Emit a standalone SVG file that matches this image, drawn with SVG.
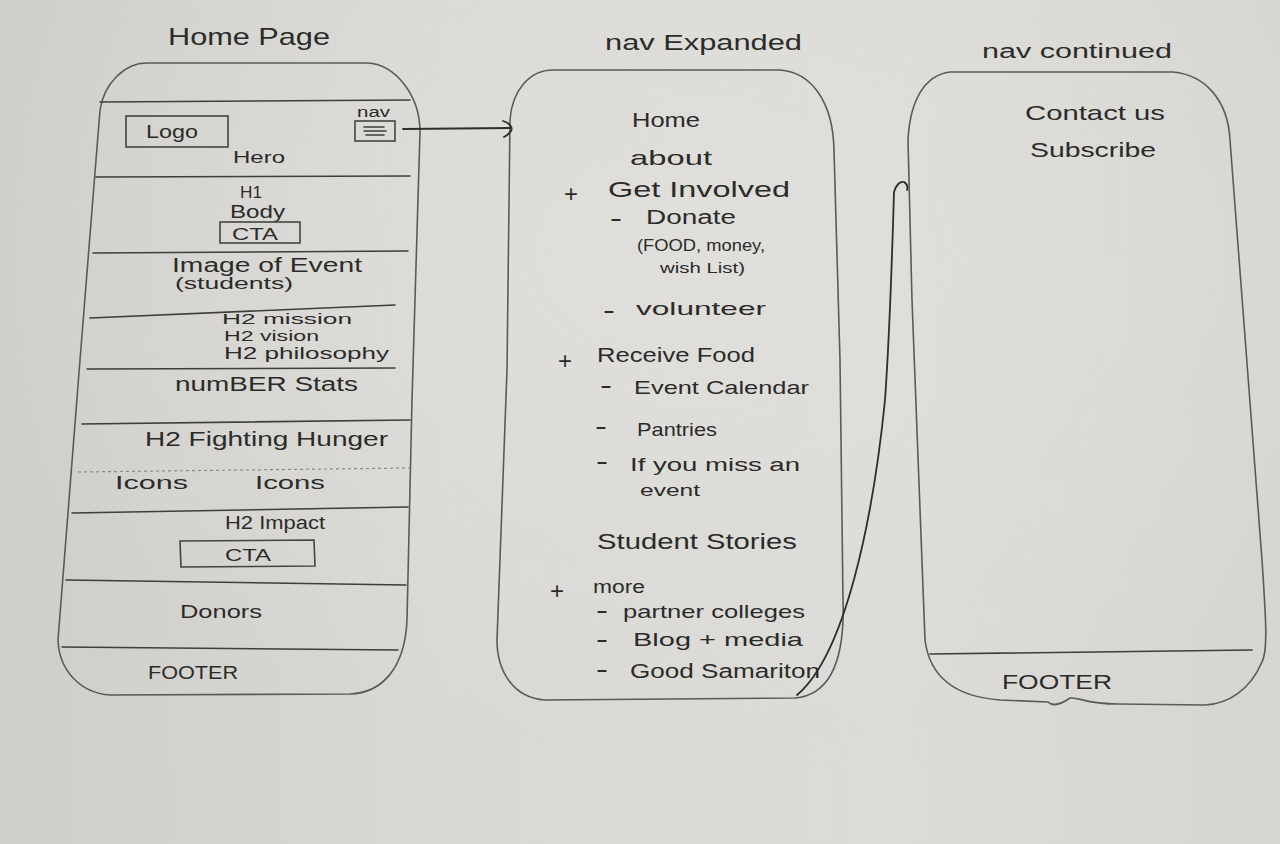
<svg xmlns="http://www.w3.org/2000/svg" width="1280" height="844" viewBox="0 0 1280 844">
<defs>
<linearGradient id="paper" x1="0" y1="0" x2="1" y2="0">
<stop offset="0" stop-color="#cfcecb"/>
<stop offset="0.35" stop-color="#d9d8d5"/>
<stop offset="0.7" stop-color="#dcdbd8"/>
<stop offset="1" stop-color="#d6d5d2"/>
</linearGradient>
<radialGradient id="glow" cx="0.55" cy="0.3" r="0.6">
<stop offset="0" stop-color="#e2e1de" stop-opacity="0.7"/>
<stop offset="1" stop-color="#e2e1de" stop-opacity="0"/>
</radialGradient>
<style>
.outline{fill:none;stroke:#5a5a58;stroke-width:1.6;stroke-linejoin:round;stroke-linecap:round}
.rule{fill:none;stroke:#3e3e3c;stroke-width:1.6;stroke-linecap:round}
.faint{fill:none;stroke:#8a8a87;stroke-width:1.2;stroke-dasharray:3 3}
.box{fill:none;stroke:#444442;stroke-width:1.6}
.conn{fill:none;stroke:#2e2e2c;stroke-width:1.8;stroke-linecap:round;stroke-linejoin:round}
text{font-family:"Liberation Sans","DejaVu Sans",sans-serif;fill:#2b2b29;font-weight:normal}
.mk{font-size:24px}
</style>
</defs>
<rect width="1280" height="844" fill="url(#paper)"/>
<rect width="1280" height="844" fill="url(#glow)"/>

<g id="home-page">
<text x="168" y="45" font-size="24" textLength="162" lengthAdjust="spacingAndGlyphs">Home Page</text>
<path class="outline" d="M147,63 L367,63 C395,64 420,95 420,132 L412,400 L407,620 C405,668 382,693 350,694 L110,695 C80,693 59,670 58,640 L80,360 L100,110 C104,84 124,63 147,63 Z"/>
<line class="rule" x1="100" y1="102" x2="410" y2="100"/>
<line class="rule" x1="96" y1="177" x2="410" y2="176"/>
<line class="rule" x1="93" y1="253" x2="408" y2="251"/>
<line class="rule" x1="90" y1="318" x2="395" y2="305"/>
<line class="rule" x1="87" y1="369" x2="395" y2="368"/>
<line class="rule" x1="82" y1="424" x2="410" y2="420"/>
<line class="faint" x1="78" y1="472" x2="410" y2="468"/>
<line class="rule" x1="72" y1="513" x2="408" y2="507"/>
<line class="rule" x1="66" y1="580" x2="406" y2="585"/>
<line class="rule" x1="62" y1="647" x2="398" y2="650"/>
<rect class="box" x="126" y="116" width="102" height="31"/>
<text x="146" y="138" font-size="18" textLength="52" lengthAdjust="spacingAndGlyphs">Logo</text>
<text x="357" y="117" font-size="14" textLength="33" lengthAdjust="spacingAndGlyphs">nav</text>
<rect class="box" x="355" y="121" width="40" height="20"/>
<line class="rule" x1="364" y1="127" x2="384" y2="127" stroke-width="1.2"/>
<line class="rule" x1="364" y1="131" x2="386" y2="131" stroke-width="1.2"/>
<line class="rule" x1="366" y1="135" x2="384" y2="135" stroke-width="1.2"/>
<text x="233" y="163" font-size="17" textLength="52" lengthAdjust="spacingAndGlyphs">Hero</text>
<text x="240" y="198" font-size="17" textLength="22" lengthAdjust="spacingAndGlyphs">H1</text>
<text x="230" y="218" font-size="18" textLength="55" lengthAdjust="spacingAndGlyphs">Body</text>
<rect class="box" x="220" y="222" width="80" height="21"/>
<text x="232" y="240" font-size="17" textLength="46" lengthAdjust="spacingAndGlyphs">CTA</text>
<text x="172" y="272" font-size="20" textLength="190" lengthAdjust="spacingAndGlyphs">Image of Event</text>
<text x="175" y="289" font-size="17" textLength="118" lengthAdjust="spacingAndGlyphs">(students)</text>
<text x="222" y="324" font-size="15" textLength="130" lengthAdjust="spacingAndGlyphs">H2  mission</text>
<text x="224" y="341" font-size="15" textLength="95" lengthAdjust="spacingAndGlyphs">H2  vision</text>
<text x="224" y="359" font-size="16" textLength="165" lengthAdjust="spacingAndGlyphs">H2  philosophy</text>
<text x="175" y="391" font-size="20" textLength="183" lengthAdjust="spacingAndGlyphs">numBER Stats</text>
<text x="145" y="446" font-size="20" textLength="243" lengthAdjust="spacingAndGlyphs">H2  Fighting Hunger</text>
<text x="115" y="489" font-size="19" textLength="73" lengthAdjust="spacingAndGlyphs">Icons</text>
<text x="255" y="489" font-size="19" textLength="70" lengthAdjust="spacingAndGlyphs">Icons</text>
<text x="225" y="529" font-size="18" textLength="100" lengthAdjust="spacingAndGlyphs">H2  Impact</text>
<path class="box" d="M180,541 L314,540 L315,566 L181,567 Z"/>
<text x="225" y="561" font-size="17" textLength="46" lengthAdjust="spacingAndGlyphs">CTA</text>
<text x="180" y="618" font-size="19" textLength="82" lengthAdjust="spacingAndGlyphs">Donors</text>
<text x="148" y="679" font-size="19" textLength="90" lengthAdjust="spacingAndGlyphs">FOOTER</text>
</g>

<g id="nav-expanded">
<text x="605" y="50" font-size="22" textLength="197" lengthAdjust="spacingAndGlyphs">nav Expanded</text>
<path class="outline" d="M553,70 L780,70 C810,72 833,100 834,150 L840,360 L843,600 C845,660 830,695 795,698 L545,700 C514,698 497,672 497,640 L507,370 L510,120 C512,90 530,70 553,70 Z"/>
<text x="632" y="127" font-size="21" textLength="68" lengthAdjust="spacingAndGlyphs">Home</text>
<text x="630" y="165" font-size="21" textLength="82" lengthAdjust="spacingAndGlyphs">about</text>
<text class="mk" x="564" y="202">+</text>
<text x="608" y="197" font-size="22" textLength="182" lengthAdjust="spacingAndGlyphs">Get Involved</text>
<text class="mk" x="610" y="226" textLength="12" lengthAdjust="spacingAndGlyphs">-</text>
<text x="646" y="224" font-size="20" textLength="90" lengthAdjust="spacingAndGlyphs">Donate</text>
<text x="637" y="251" font-size="16" textLength="128" lengthAdjust="spacingAndGlyphs">(FOOD, money,</text>
<text x="660" y="273" font-size="15" textLength="85" lengthAdjust="spacingAndGlyphs">wish List)</text>
<text class="mk" x="603" y="318" textLength="12" lengthAdjust="spacingAndGlyphs">-</text>
<text x="636" y="315" font-size="19" textLength="130" lengthAdjust="spacingAndGlyphs">volunteer</text>
<text class="mk" x="558" y="369">+</text>
<text x="597" y="362" font-size="20" textLength="158" lengthAdjust="spacingAndGlyphs">Receive Food</text>
<text class="mk" x="600" y="393" textLength="12" lengthAdjust="spacingAndGlyphs">-</text>
<text x="634" y="394" font-size="19" textLength="175" lengthAdjust="spacingAndGlyphs">Event Calendar</text>
<text class="mk" x="595" y="434" textLength="12" lengthAdjust="spacingAndGlyphs">-</text>
<text x="637" y="436" font-size="19" textLength="80" lengthAdjust="spacingAndGlyphs">Pantries</text>
<text class="mk" x="596" y="469" textLength="12" lengthAdjust="spacingAndGlyphs">-</text>
<text x="630" y="471" font-size="18" textLength="170" lengthAdjust="spacingAndGlyphs">If you miss an</text>
<text x="640" y="496" font-size="16" textLength="60" lengthAdjust="spacingAndGlyphs">event</text>
<text x="597" y="549" font-size="22" textLength="200" lengthAdjust="spacingAndGlyphs">Student Stories</text>
<text class="mk" x="550" y="599">+</text>
<text x="593" y="593" font-size="18" textLength="52" lengthAdjust="spacingAndGlyphs">more</text>
<text class="mk" x="596" y="618" textLength="12" lengthAdjust="spacingAndGlyphs">-</text>
<text x="623" y="618" font-size="19" textLength="182" lengthAdjust="spacingAndGlyphs">partner colleges</text>
<text class="mk" x="596" y="647" textLength="12" lengthAdjust="spacingAndGlyphs">-</text>
<text x="633" y="646" font-size="19" textLength="170" lengthAdjust="spacingAndGlyphs">Blog + media</text>
<text class="mk" x="596" y="677" textLength="12" lengthAdjust="spacingAndGlyphs">-</text>
<text x="630" y="678" font-size="20" textLength="190" lengthAdjust="spacingAndGlyphs">Good Samariton</text>
</g>

<g id="nav-continued">
<text x="982" y="58" font-size="20" textLength="190" lengthAdjust="spacingAndGlyphs">nav continued</text>
<path class="outline" d="M950,72 L1173,72 C1205,75 1228,100 1230,140 L1262,560 C1266,620 1268,650 1262,662 C1250,690 1228,704 1205,705 L1118,704 C1085,704 1080,697 1070,698 C1060,705 1052,706 1048,702 L1000,700 C960,697 930,680 925,640 L912,300 L908,140 C910,100 925,75 950,72 Z"/>
<line class="rule" x1="930" y1="654" x2="1252" y2="650"/>
<text x="1025" y="120" font-size="21" textLength="140" lengthAdjust="spacingAndGlyphs">Contact us</text>
<text x="1030" y="157" font-size="20" textLength="126" lengthAdjust="spacingAndGlyphs">Subscribe</text>
<text x="1002" y="689" font-size="20" textLength="110" lengthAdjust="spacingAndGlyphs">FOOTER</text>
</g>

<g id="connectors">
<path class="conn" d="M403,129 L510,128"/>
<path class="conn" d="M503,121 C510,123 513,128 511,131 C509,134 506,136 504,137"/>
<path class="conn" d="M797,695 C845,655 873,520 885,400 C890,330 892,260 894,192 C896,185 900,181 904,182 C907,184 908,187 907,190"/>
</g>
</svg>
